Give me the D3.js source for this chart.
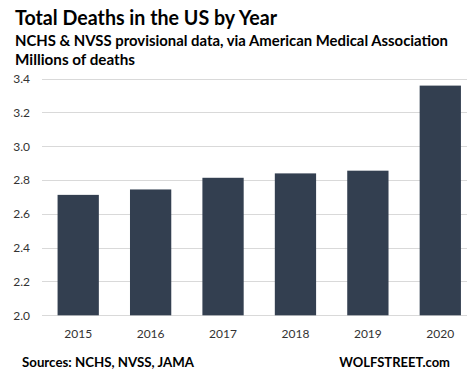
<!DOCTYPE html>
<html><head><meta charset="utf-8">
<script src="https://cdn.jsdelivr.net/npm/d3@7"></script>
<style>body{margin:0;background:#fff}svg{display:block}text{font-family:Lato,"Open Sans",sans-serif}</style>
</head><body>
<svg id="c" width="467" height="380"></svg>
<script>
const years = ["2015","2016","2017","2018","2019","2020"];
const deaths = [2.712, 2.744, 2.813, 2.839, 2.855, 3.358];
const yTicks = [2.0, 2.2, 2.4, 2.6, 2.8, 3.0, 3.2, 3.4];
const title = "Total Deaths in the US by Year";
const subtitle = "NCHS & NVSS provisional data, via American Medical Association";
const unitLine = "Millions of deaths";
const sourceText = "Sources: NCHS, NVSS, JAMA";
const brand = "WOLFSTREET.com";

const svg = d3.select("#c");
const x = d3.scaleBand().domain(years).range([42, 476.5]).paddingInner(0.43).paddingOuter(0.215);
const y = d3.scaleLinear().domain([2.0, 3.4]).range([315.3, 78.5]);

svg.append("g").selectAll("line").data(yTicks).join("line")
  .attr("x1", 42).attr("x2", 467)
  .attr("y1", d => Math.round(y(d)) + 0.5).attr("y2", d => Math.round(y(d)) + 0.5)
  .attr("stroke", "#d9d9d9").attr("stroke-width", 1);

svg.append("g").selectAll("rect").data(years).join("rect")
  .attr("x", d => x(d)).attr("width", x.bandwidth())
  .attr("y", (d, i) => y(deaths[i])).attr("height", (d, i) => y(2.0) - y(deaths[i]))
  .attr("fill", "#333f50");

svg.append("g").selectAll("text").data(yTicks).join("text")
  .attr("x", 30).attr("y", d => y(d) + 4.5).attr("text-anchor", "end")
  .attr("font-size", 12).attr("fill", "#333").text(d => d.toFixed(1));

svg.append("g").selectAll("text").data(years).join("text")
  .attr("x", d => x(d) + x.bandwidth() / 2).attr("y", 337.5).attr("text-anchor", "middle")
  .attr("font-size", 12).attr("fill", "#333").text(d => d);

svg.append("text").attr("x", 15).attr("y", 24.5).attr("font-size", 20.5).attr("font-weight", "bold")
  .attr("fill", "#000").attr("textLength", 262).attr("lengthAdjust", "spacingAndGlyphs").text(title);
svg.append("text").attr("x", 15).attr("y", 46).attr("font-size", 15).attr("font-weight", "bold")
  .attr("fill", "#000").attr("textLength", 433).attr("lengthAdjust", "spacingAndGlyphs").text(subtitle);
svg.append("text").attr("x", 15).attr("y", 65).attr("font-size", 15).attr("font-weight", "bold")
  .attr("fill", "#000").attr("textLength", 120).attr("lengthAdjust", "spacingAndGlyphs").text(unitLine);
svg.append("text").attr("x", 22).attr("y", 366.5).attr("font-size", 13).attr("font-weight", "bold")
  .attr("fill", "#000").attr("textLength", 172).attr("lengthAdjust", "spacingAndGlyphs").text(sourceText);
svg.append("text").attr("x", 450).attr("y", 366.5).attr("font-size", 13).attr("font-weight", "bold")
  .attr("text-anchor", "end").attr("fill", "#000").text(brand);
</script>
</body></html>
